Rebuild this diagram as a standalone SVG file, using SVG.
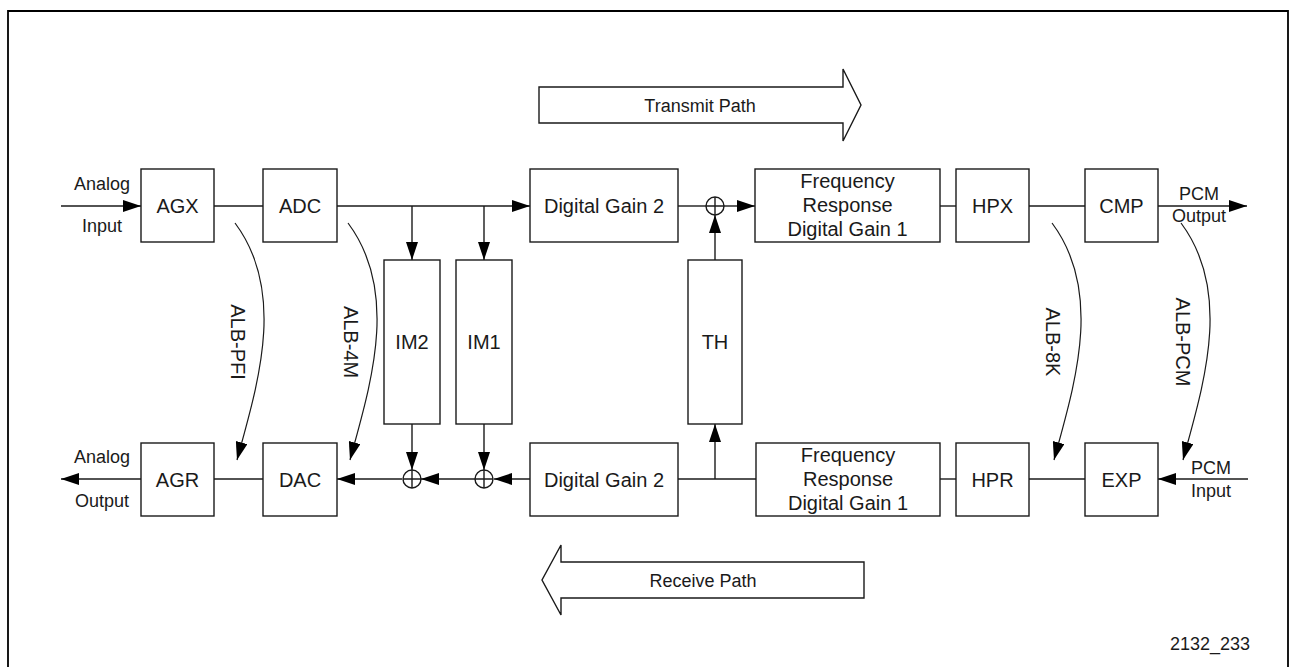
<svg xmlns="http://www.w3.org/2000/svg" width="1297" height="667" viewBox="0 0 1297 667">
<style>
.box{fill:#fff;stroke:#1a1a1a;stroke-width:1.4}
.ln{fill:none;stroke:#1a1a1a;stroke-width:1.4}
.cv{fill:none;stroke:#1a1a1a;stroke-width:1.2}
.t{font-family:"Liberation Sans",Arial,Helvetica,sans-serif;fill:#1a1a1a;text-anchor:middle}
.b{font-size:20px}
.s{font-size:18px}
</style>
<defs>
<marker id="ah" viewBox="0 0 18 12" refX="18" refY="6" markerWidth="18" markerHeight="12" markerUnits="userSpaceOnUse" orient="auto">
<path d="M0,0 L18,6 L0,12 Z" fill="#000"/>
</marker>
<path id="curve" d="M0,0 C53,71 21,166 2,237"/>
</defs>
<rect width="1297" height="667" fill="#fff"/>
<path d="M8,667 V11 H1288 V667" fill="none" stroke="#000" stroke-width="1.8"/>

<g id="connectors">
<!-- transmit row -->
<line class="ln" x1="61" y1="206" x2="141" y2="206" marker-end="url(#ah)"/>
<line class="ln" x1="214" y1="206" x2="263" y2="206"/>
<line class="ln" x1="337" y1="206" x2="530" y2="206" marker-end="url(#ah)"/>
<line class="ln" x1="412" y1="206" x2="412" y2="260" marker-end="url(#ah)"/>
<line class="ln" x1="484" y1="206" x2="484" y2="260" marker-end="url(#ah)"/>
<line class="ln" x1="678" y1="206" x2="706" y2="206"/>
<line class="ln" x1="724" y1="206" x2="755" y2="206" marker-end="url(#ah)"/>
<line class="ln" x1="715" y1="260" x2="715" y2="215" marker-end="url(#ah)"/>
<line class="ln" x1="940" y1="206" x2="956" y2="206"/>
<line class="ln" x1="1029" y1="206" x2="1085" y2="206"/>
<line class="ln" x1="1158" y1="206" x2="1247" y2="206" marker-end="url(#ah)"/>
<!-- receive row -->
<line class="ln" x1="1248" y1="479" x2="1158" y2="479" marker-end="url(#ah)"/>
<line class="ln" x1="1029" y1="479" x2="1085" y2="479"/>
<line class="ln" x1="940" y1="479" x2="956" y2="479"/>
<line class="ln" x1="756" y1="479" x2="678" y2="479"/>
<line class="ln" x1="715" y1="479" x2="715" y2="424" marker-end="url(#ah)"/>
<line class="ln" x1="530" y1="479" x2="494" y2="479" marker-end="url(#ah)"/>
<line class="ln" x1="476" y1="479" x2="421" y2="479" marker-end="url(#ah)"/>
<line class="ln" x1="402" y1="479" x2="337" y2="479" marker-end="url(#ah)"/>
<line class="ln" x1="263" y1="479" x2="214" y2="479"/>
<line class="ln" x1="141" y1="479" x2="61" y2="479" marker-end="url(#ah)"/>
<line class="ln" x1="412" y1="424" x2="412" y2="470" marker-end="url(#ah)"/>
<line class="ln" x1="484" y1="424" x2="484" y2="470" marker-end="url(#ah)"/>
<!-- loopback curves -->
<use href="#curve" class="cv" transform="translate(235,223)" marker-end="url(#ah)"/>
<use href="#curve" class="cv" transform="translate(348,223)" marker-end="url(#ah)"/>
<use href="#curve" class="cv" transform="translate(1052,223)" marker-end="url(#ah)"/>
<use href="#curve" class="cv" transform="translate(1181,223)" marker-end="url(#ah)"/>
</g>

<g id="sum-tx"><circle class="box" cx="715" cy="206" r="9"/><path class="ln" d="M706,206 H724 M715,197 V215"/></g>
<g id="sum-im2"><circle class="box" cx="412" cy="479" r="9"/><path class="ln" d="M403,479 H421 M412,470 V488"/></g>
<g id="sum-im1"><circle class="box" cx="484" cy="479" r="9"/><path class="ln" d="M475,479 H493 M484,470 V488"/></g>

<g id="agx"><rect class="box" x="141" y="169" width="73" height="73"/><text class="t b" x="177.5" y="212.5">AGX</text></g>
<g id="adc"><rect class="box" x="263" y="169" width="74" height="73"/><text class="t b" x="300" y="212.5">ADC</text></g>
<g id="dg2-tx"><rect class="box" x="530" y="169" width="148" height="73"/><text class="t b" x="604" y="212.5">Digital Gain 2</text></g>
<g id="fr-tx"><rect class="box" x="755" y="169" width="185" height="73"/><text class="t b" x="847.5" y="188">Frequency</text><text class="t b" x="847.5" y="212">Response</text><text class="t b" x="847.5" y="235.5">Digital Gain 1</text></g>
<g id="hpx"><rect class="box" x="956" y="169" width="73" height="73"/><text class="t b" x="992.5" y="212.5">HPX</text></g>
<g id="cmp"><rect class="box" x="1085" y="169" width="73" height="73"/><text class="t b" x="1121.5" y="212.5">CMP</text></g>

<g id="im2"><rect class="box" x="384" y="260" width="56" height="164"/><text class="t b" x="412" y="349">IM2</text></g>
<g id="im1"><rect class="box" x="456" y="260" width="56" height="164"/><text class="t b" x="484" y="349">IM1</text></g>
<g id="th"><rect class="box" x="688" y="260" width="54" height="164"/><text class="t b" x="715" y="349">TH</text></g>

<g id="agr"><rect class="box" x="141" y="443" width="73" height="73"/><text class="t b" x="177.5" y="486.5">AGR</text></g>
<g id="dac"><rect class="box" x="263" y="443" width="74" height="73"/><text class="t b" x="300" y="486.5">DAC</text></g>
<g id="dg2-rx"><rect class="box" x="530" y="443" width="148" height="73"/><text class="t b" x="604" y="486.5">Digital Gain 2</text></g>
<g id="fr-rx"><rect class="box" x="756" y="443" width="184" height="73"/><text class="t b" x="848" y="462">Frequency</text><text class="t b" x="848" y="486">Response</text><text class="t b" x="848" y="509.5">Digital Gain 1</text></g>
<g id="hpr"><rect class="box" x="956" y="443" width="73" height="73"/><text class="t b" x="992.5" y="486.5">HPR</text></g>
<g id="exp"><rect class="box" x="1085" y="443" width="73" height="73"/><text class="t b" x="1121.5" y="486.5">EXP</text></g>

<g id="transmit-path"><path class="box" d="M539,87 H843 V69 L861,105 L843,141 V123 H539 Z"/><text class="t s" x="700" y="111.5">Transmit Path</text></g>
<g id="receive-path"><path class="box" d="M864,562 H561 V545 L542,580 L561,615 V598 H864 Z"/><text class="t s" x="703" y="586.5">Receive Path</text></g>

<g id="labels">
<text class="t s" x="102" y="190">Analog</text>
<text class="t s" x="102" y="232">Input</text>
<text class="t s" x="102" y="463">Analog</text>
<text class="t s" x="102" y="507">Output</text>
<text class="t s" x="1199" y="200">PCM</text>
<text class="t s" x="1199" y="222">Output</text>
<text class="t s" x="1211" y="474">PCM</text>
<text class="t s" x="1211" y="497">Input</text>
<text class="t b" transform="translate(238,342) rotate(90)" x="0" y="7">ALB-PFI</text>
<text class="t b" transform="translate(351,342) rotate(90)" x="0" y="7">ALB-4M</text>
<text class="t b" transform="translate(1053,342) rotate(90)" x="0" y="7">ALB-8K</text>
<text class="t b" transform="translate(1183,342) rotate(90)" x="0" y="7">ALB-PCM</text>
<text class="t s" x="1210" y="650">2132_233</text>
</g>
</svg>
